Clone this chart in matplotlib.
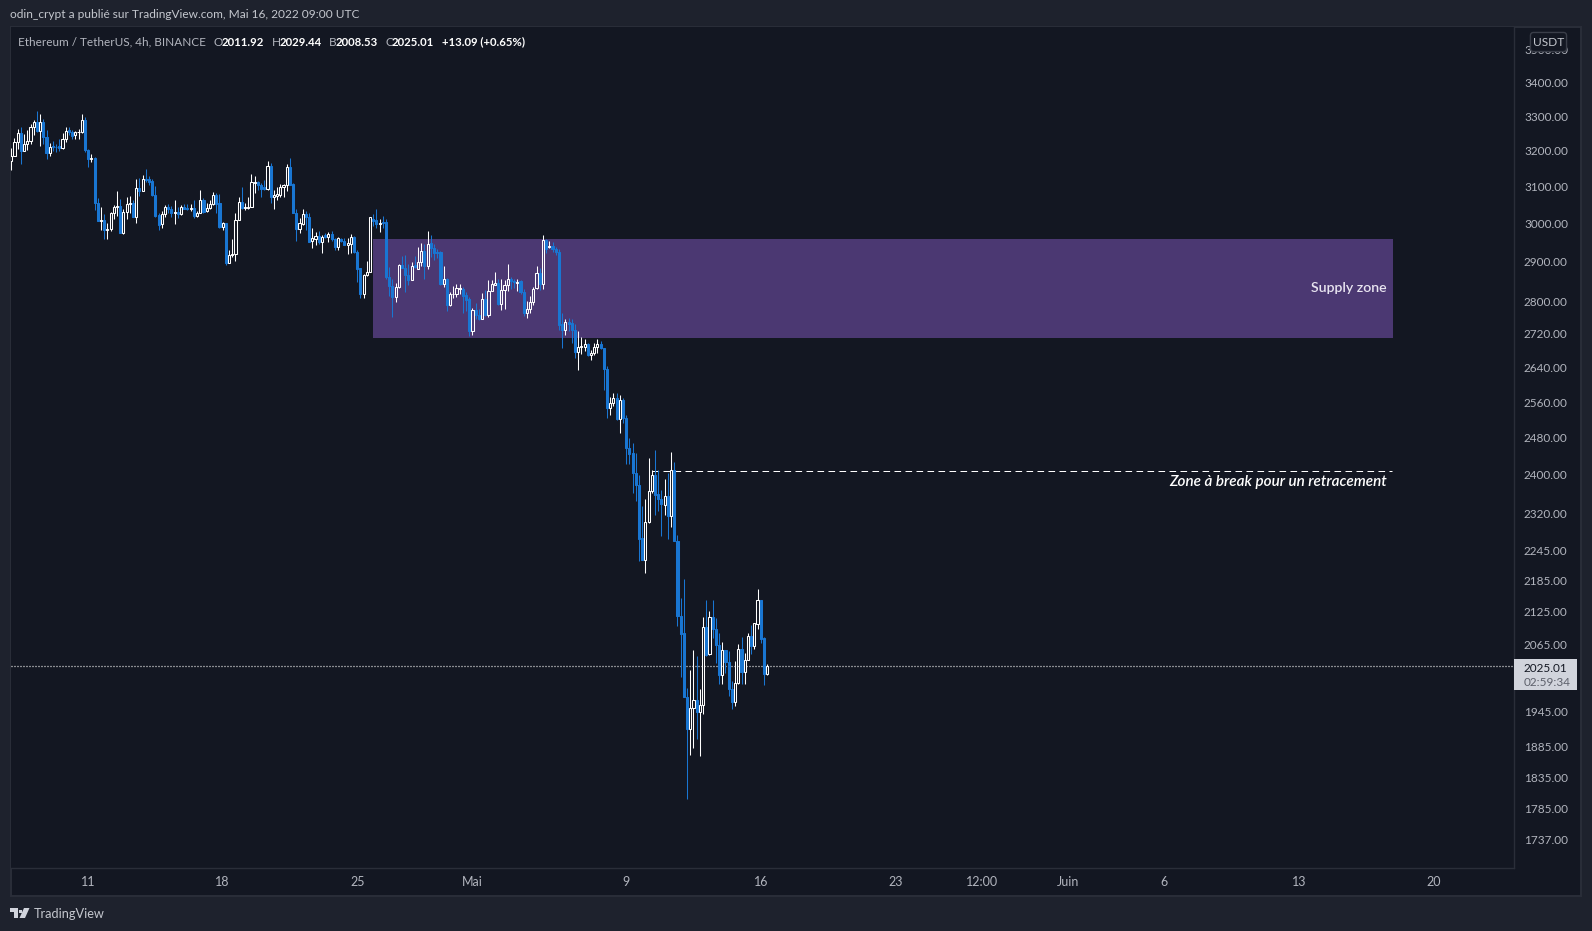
import matplotlib
matplotlib.use("Agg")
import matplotlib.pyplot as plt
from matplotlib.patches import Rectangle, Polygon, FancyBboxPatch
from matplotlib.ticker import NullLocator

# ---- data (4h candles, Ethereum / TetherUS) ----
opens = [3170,3185,3226,3250,3199,3220,3227,3268,3284,3258,
 3282,3239,3193,3213,3212,3213,3208,3234,3260,3255,
 3245,3253,3255,3290,3203,3178,3180,3054,3007,3009,
 2984,2986,3029,3044,3047,2976,3031,3052,3056,3017,
 3095,3087,3121,3121,3114,3077,3022,2998,3025,3045,
 3040,3029,3031,3025,3045,3042,3039,3042,3020,3028,
 3063,3033,3042,3052,3078,3055,2991,3000,2897,2918,
 2921,3009,3057,3042,3042,3044,3110,3112,3105,3098,
 3092,3156,3070,3074,3078,3098,3103,3153,3107,3029,
 2986,2999,3024,3018,2953,2959,2967,2951,2969,2963,
 2972,2959,2937,2960,2953,2943,2947,2964,2926,2883,
 2818,2867,2874,3012,3008,2998,3004,3003,2862,2839,
 2810,2835,2892,2884,2866,2853,2892,2882,2898,2927,
 2888,2948,2936,2925,2925,2842,2856,2791,2817,2817,
 2830,2831,2816,2806,2726,2779,2766,2756,2806,2766,
 2825,2840,2846,2794,2827,2840,2856,2851,2846,2850,
 2824,2772,2781,2799,2832,2871,2843,2957,2938,2941,
 2934,2925,2743,2729,2749,2746,2730,2676,2689,2689,
 2695,2670,2673,2689,2695,2685,2637,2547,2559,2570,
 2521,2566,2524,2458,2447,2405,2379,2270,2226,2302,
 2365,2400,2359,2350,2337,2356,2313,2411,2264,2118,
 2085,1970,1915,1951,1965,1944,1957,2096,2047,2115,
 2094,2064,2009,2054,2032,1985,1961,1995,2056,2014,
 2036,2081,2062,2103,2147,2077,2011.92]
highs = [3209,3237,3263,3269,3248,3260,3277,3288,3314,3305,
 3291,3260,3223,3229,3218,3234,3250,3268,3268,3260,
 3258,3262,3307,3296,3204,3192,3183,3068,3045,3024,
 3000,3031,3049,3087,3067,3038,3071,3073,3062,3121,
 3123,3132,3148,3128,3121,3101,3029,3033,3049,3051,
 3047,3064,3045,3049,3053,3053,3051,3064,3034,3091,
 3068,3056,3062,3085,3083,3080,3005,3000,2930,2959,
 3029,3071,3099,3055,3071,3134,3128,3115,3110,3118,
 3170,3165,3091,3098,3107,3107,3162,3180,3109,3038,
 3014,3038,3034,3027,2988,2977,2979,2970,2975,2977,
 2981,2962,2964,2962,2962,2962,2972,2966,2930,2883,
 2869,2902,3018,3025,3038,3013,3019,3011,2886,2856,
 2846,2894,2914,2918,2894,2899,2914,2939,2949,2945,
 2980,2970,2946,2934,2927,2888,2859,2823,2839,2842,
 2842,2836,2823,2810,2782,2796,2781,2820,2829,2853,
 2853,2874,2856,2855,2853,2895,2862,2855,2855,2853,
 2830,2800,2812,2835,2890,2884,2969,2959,2954,2952,
 2939,2934,2772,2757,2759,2757,2745,2728,2713,2708,
 2699,2682,2699,2707,2702,2685,2644,2572,2580,2581,
 2576,2569,2531,2480,2468,2447,2400,2334,2349,2437,
 2410,2454,2410,2367,2392,2405,2450,2428,2276,2151,
 2188,1986,2019,2055,2044,1984,2115,2147,2126,2148,
 2114,2085,2070,2055,2053,1999,2035,2066,2079,2049,
 2086,2100,2105,2168,2147,2078,2029.44]
lows = [3147,3185,3206,3162,3199,3201,3218,3246,3255,3213,
 3218,3176,3185,3199,3197,3199,3206,3225,3246,3235,
 3235,3235,3252,3197,3155,3169,3035,3007,2983,2958,
 2958,2979,3012,3020,2975,2973,3012,3029,3016,3000,
 3073,3087,3113,3103,3073,3016,2983,2988,3018,3029,
 3018,2999,3014,3022,3038,3035,3033,3014,3018,3027,
 3027,3031,3038,3049,3027,2988,2983,2892,2897,2911,
 2901,3009,3040,3035,3038,3043,3083,3090,3070,3090,
 3091,3056,3040,3062,3071,3070,3087,3105,3027,2953,
 2975,2997,2983,2952,2936,2942,2945,2922,2962,2952,
 2953,2930,2930,2950,2942,2919,2923,2923,2849,2807,
 2807,2864,2873,2992,2987,2977,2987,2856,2812,2760,
 2798,2832,2884,2824,2840,2852,2884,2880,2888,2856,
 2880,2912,2905,2909,2840,2835,2776,2789,2808,2810,
 2817,2772,2776,2715,2717,2756,2753,2755,2764,2762,
 2825,2840,2791,2779,2781,2825,2830,2834,2825,2819,
 2764,2758,2772,2790,2830,2828,2830,2923,2936,2925,
 2916,2730,2686,2717,2726,2697,2662,2635,2672,2678,
 2668,2657,2670,2673,2684,2588,2524,2532,2552,2519,
 2491,2514,2424,2423,2361,2345,2224,2226,2200,2300,
 2361,2317,2325,2273,2317,2267,2291,2263,2099,2006,
 1970,1800,1872,1883,1899,1870,1941,2044,2046,2076,
 2030,1994,1994,2013,1972,1950,1955,1993,1994,1994,
 2036,2048,2057,2094,2068,1991,2008.53]
closes = [3185,3226,3250,3199,3220,3227,3268,3284,3258,3282,
 3239,3193,3212,3211,3210,3208,3234,3258,3255,3243,
 3253,3255,3290,3203,3178,3180,3054,3007,3008,2983,
 2986,3029,3045,3047,2976,3031,3052,3055,3017,3095,
 3087,3120,3119,3113,3076,3019,2997,3025,3045,3038,
 3029,3031,3024,3045,3040,3038,3042,3019,3028,3063,
 3031,3042,3052,3077,3053,2990,3000,2896,2918,2921,
 3010,3057,3042,3044,3045,3112,3112,3103,3094,3092,
 3156,3070,3076,3079,3098,3104,3153,3105,3028,2986,
 3000,3024,3016,2952,2961,2966,2950,2964,2964,2972,
 2958,2938,2961,2953,2942,2948,2964,2924,2881,2817,
 2867,2874,3016,3006,2998,3002,3001,2860,2838,2810,
 2836,2891,2884,2865,2852,2890,2886,2899,2927,2888,
 2947,2936,2923,2923,2842,2856,2791,2819,2819,2832,
 2832,2814,2804,2726,2779,2765,2755,2806,2765,2826,
 2842,2846,2794,2828,2841,2856,2851,2849,2849,2823,
 2772,2781,2799,2831,2871,2842,2956,2934,2940,2933,
 2924,2741,2730,2749,2745,2729,2676,2689,2691,2695,
 2670,2673,2689,2695,2685,2636,2547,2559,2570,2521,
 2566,2524,2457,2445,2404,2379,2268,2226,2302,2365,
 2400,2358,2350,2338,2356,2313,2411,2263,2117,2083,
 1970,1915,1951,1965,1944,1957,2096,2046,2115,2094,
 2064,2009,2054,2032,1985,1961,1996,2056,2014,2036,
 2081,2062,2104,2147,2075,2012,2025.01]

price_ticks = [3500,3400,3300,3200,3100,3000,2900,2800,2720,2640,2560,2480,2400,
               2320,2245,2185,2125,2065,1945,1885,1835,1785,1737]
time_ticks = [24,66,108,144,192,234,276,303,330,360,402,444]
time_labels = ["11","18","25","Mai","9","16","23","12:00","Juin","6","13","20"]
supply_zone = (2959, 2711)
supply_span = (112.9, 431.4)
break_level = 2409
break_span = (200.1, 431.0)
last_price = 2025.01

BG = "#131722"; PANEL = "#1e222d"; BORDER = "#2a2e39"
TXT = "#b2b5be"; BLUE = "#1976d2"; WHITE = "#ffffff"
FONT = "Lato"
W, H = 1592, 931
plt.rcParams["font.family"] = [FONT, "DejaVu Sans"]

fig = plt.figure(figsize=(W/100, H/100), dpi=100, facecolor=PANEL)
def fx(x): return x/W
def fy(y): return 1-y/H
def frect(x0, y0, x1, y1, **kw):
    fig.add_artist(Rectangle((fx(x0), fy(y1)), (x1-x0)/W, (y1-y0)/H, transform=fig.transFigure, **kw))
def ftext(x, y, s, **kw):
    kw.setdefault("va", "center"); kw.setdefault("color", TXT)
    fig.text(fx(x), fy(y), s, **kw)

frect(10.5, 27, 1581, 896, facecolor=BG, edgecolor=BORDER, lw=1.4, zorder=-5)

ax = fig.add_axes([fx(11), fy(868), (1514-11)/W, (868-27)/H], facecolor=BG)
ax.set_yscale("log")
ax.set_ylim(1693.0, 3571.6)
ax.set_xlim(-0.09, 469.2)
for s in ("top", "left"):
    ax.spines[s].set_visible(False)
for s in ("right", "bottom"):
    ax.spines[s].set_color(BORDER); ax.spines[s].set_linewidth(1.0)

# supply zone and break line
ax.add_patch(Rectangle((supply_span[0], supply_zone[1]), supply_span[1]-supply_span[0],
                       supply_zone[0]-supply_zone[1], facecolor="#4b3872", edgecolor="none", zorder=1))
ax.plot(break_span, [break_level, break_level], color=WHITE, lw=0.72, dashes=(6.6, 4.4), zorder=2)
ax.axhline(last_price, color=WHITE, lw=0.9, dashes=(0.8, 1.6), zorder=2)

# candles
for i, (o, h, l, c) in enumerate(zip(opens, highs, lows, closes)):
    up = c >= o
    col = WHITE if up else BLUE
    top, bot = max(o, c), min(o, c)
    ax.vlines(i, top, h, color=col, lw=0.75, zorder=3)
    ax.vlines(i, l, bot, color=col, lw=0.75, zorder=3)
    ax.bar(i, top-bot, bottom=bot, width=0.66, facecolor="none" if up else BLUE,
           edgecolor=col, linewidth=0.75, zorder=4)

ax.set_yticks(price_ticks)
ax.set_yticklabels([f"{p:.2f}" for p in price_ticks])
ax.yaxis.set_minor_locator(NullLocator())
ax.yaxis.tick_right()
ax.tick_params(axis="y", length=0, pad=7.2, labelsize=8.5, labelcolor=TXT)
ax.set_xticks(time_ticks)
ax.set_xticklabels(time_labels)
ax.tick_params(axis="x", length=0, pad=5.6, labelsize=9, labelcolor=TXT)

ftext(1386.7, 288, "Supply zone", ha="right", color="#e8e4f0", fontsize=10.2, fontweight="semibold")
ftext(1386.7, 481.7, "Zone à break pour un retracement", ha="right", color=WHITE,
      fontsize=11, fontstyle="italic", fontweight="semibold")

# header
ftext(10, 15, "odin_crypt a publié sur TradingView.com, Mai 16, 2022 09:00 UTC", color="#c4c7ce", fontsize=8.6)
ftext(17.5, 42, "Ethereum / TetherUS, 4h, BINANCE", fontsize=8.45)
for x, lab in [(214, "O"), (271.4, "H"), (328.6, "B"), (385, "C")]:
    ftext(x, 42, lab, fontsize=8.5)
for x, val in [(222, "2011.92"), (279.6, "2029.44"), (336, "2008.53"), (392, "2025.01"),
               (441.8, "+13.09 (+0.65%)")]:
    ftext(x, 42, val, color=WHITE, fontsize=8.2, fontweight="bold")

# scale badge
fig.add_artist(FancyBboxPatch((fx(1533), fy(49)), 31/W, 14/H, transform=fig.transFigure,
                              boxstyle="round,pad=0.0016,rounding_size=0.002", mutation_aspect=1.7,
                              facecolor=BG, edgecolor="#3a3e49", lw=1, zorder=5))
ftext(1548.3, 42, "USDT", ha="center", fontsize=8.6, color="#c4c7ce", zorder=6)

# last price tag
frect(1514, 659, 1577, 690, facecolor="#d1d4dc", edgecolor="none", zorder=5)
ftext(1524, 668, "2025.01", color=BG, fontsize=8.5, zorder=6)
ftext(1524, 682, "02:59:34", color="#5d606b", fontsize=8.5, zorder=6)

# footer logo and name
logo = "#d1d4dc"
fig.add_artist(Polygon([(fx(10), fy(908)), (fx(17.5), fy(908)), (fx(17.5), fy(918)), (fx(13.5), fy(918)),
                        (fx(13.5), fy(912)), (fx(10), fy(912))], transform=fig.transFigure,
                       facecolor=logo, edgecolor="none"))
fig.add_artist(Polygon([(fx(24), fy(908)), (fx(29.5), fy(908)), (fx(25), fy(918)), (fx(19.5), fy(918))],
                       transform=fig.transFigure, facecolor=logo, edgecolor="none"))
frect(19.3, 909.5, 22.2, 912.5, facecolor=logo, edgecolor="none")
ftext(33.5, 913.5, "TradingView", fontsize=9.2, color="#c4c7ce")

fig.savefig("out.png", dpi=100, facecolor=PANEL)
